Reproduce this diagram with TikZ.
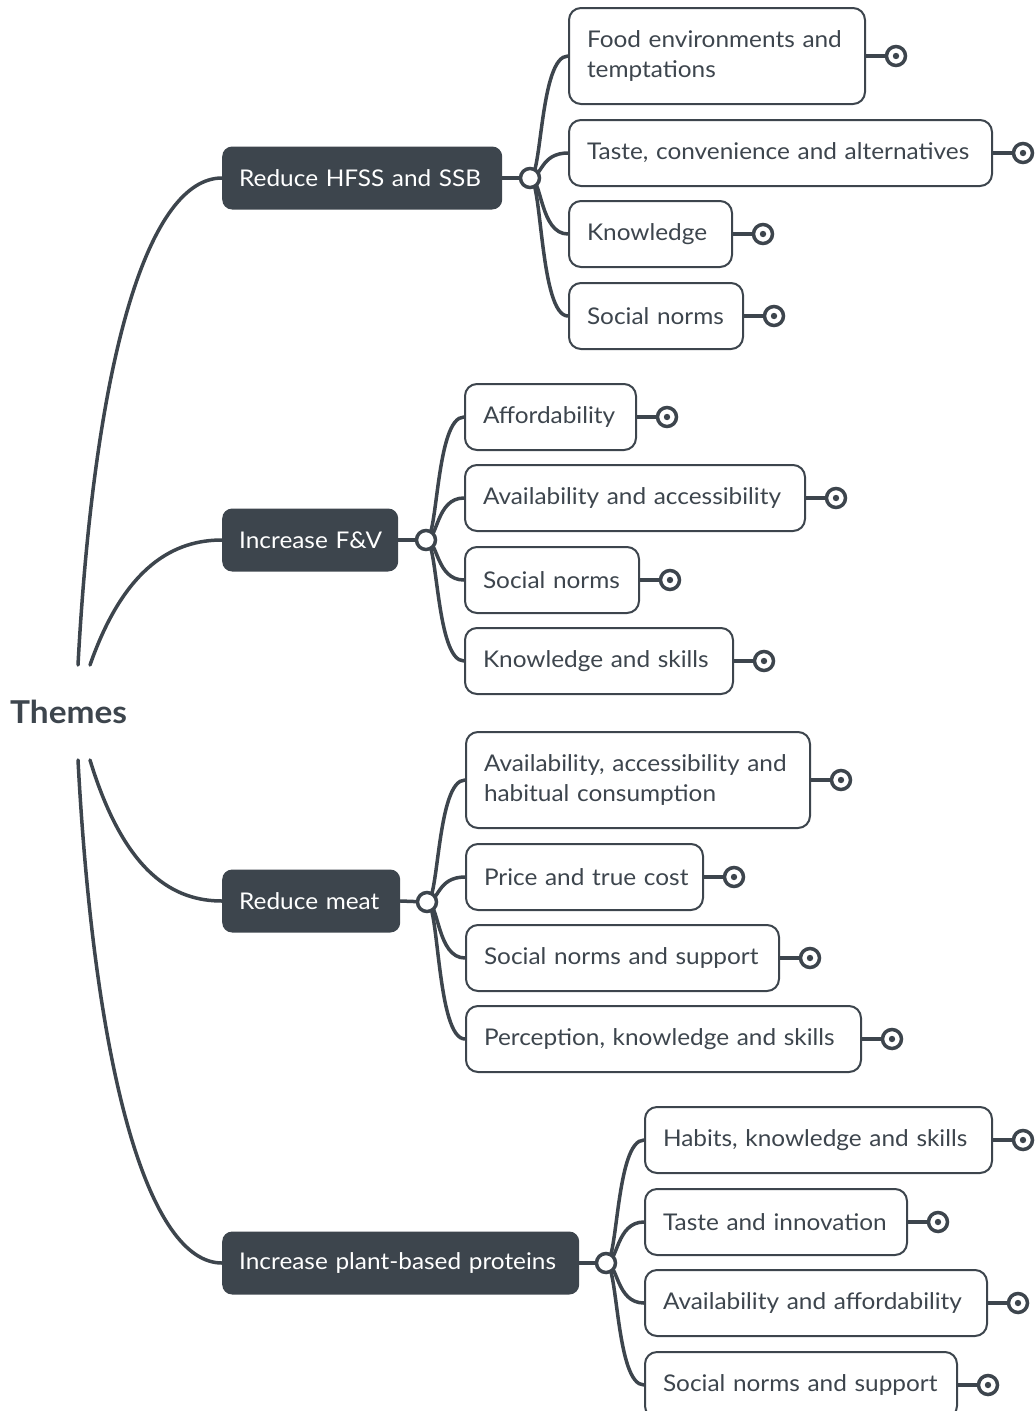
\documentclass[tikz,border=0pt]{standalone}
\usepackage{fontspec}
\setmainfont{Lato}[FakeStretch=1.06]
\definecolor{dk}{HTML}{3D454D}
\pgfdeclarelayer{bg}
\pgfsetlayers{bg,main}

% leaf topic: name, junction, x, centre y, width, height, text width, text
\newcommand\leafnode[8]{%
  \node[leaf, minimum width=#5pt, minimum height=#6pt, text width=#7pt] (#1) at (#3,#4) {#8};
  \node[endmark] (#1m) at ([xshift=30pt]#1.east) {};
  \fill[dk] (#1m.center) circle (3.2pt);
  \begin{pgfonlayer}{bg}
    \draw[link] (#1.east) -- (#1m.center);
    \draw[link] (#2.center) .. controls +(12,0) and +(-28,0) .. (#1.west);
  \end{pgfonlayer}
}

\begin{document}
\begin{tikzpicture}[x=1pt,y=-1pt,
  topic/.style={fill=dk, text=white, rounded corners=10pt, minimum height=63pt,
    inner xsep=17pt, anchor=west, align=left, font=\fontsize{23}{27}\selectfont},
  leaf/.style={draw=dk, line width=2pt, fill=white, rounded corners=12pt,
    inner xsep=18pt, inner ysep=0pt, align=left, anchor=west, text=dk,
    font=\fontsize{23}{30.5}\selectfont},
  junc/.style={circle, draw=dk, line width=3.5pt, fill=white, minimum size=19pt, inner sep=0pt},
  endmark/.style={circle, draw=dk, line width=3.5pt, fill=white, minimum size=19pt, inner sep=0pt},
  link/.style={draw=dk, line width=3.5pt, line cap=round},
]
\useasboundingbox (0,0) rectangle (1034,1411);

% root
\node[anchor=west, inner xsep=0pt, text=dk, font=\fontsize{31.5}{36}\selectfont\bfseries] (root) at (10,712) {Themes};
\coordinate (r1) at (78,665);
\coordinate (r2) at (90,665);
\coordinate (r3) at (90,760);
\coordinate (r4) at (78,760);

% main topics
\node[topic, minimum width=280pt, text width=246pt] (m1) at (222,178) {\mbox{Reduce HFSS and SSB}};
\node[topic, minimum width=176pt, text width=142pt] (m2) at (222,540) {\mbox{Increase F\&V}};
\node[topic, minimum width=178pt, text width=144pt] (m3) at (222,901) {\mbox{Reduce meat}};
\node[topic, minimum width=357pt, text width=323pt] (m4) at (222,1263) {\mbox{Increase plant-based proteins}};

% junctions
\node[junc] (j1) at (530,178) {};
\node[junc] (j2) at (426,540) {};
\node[junc] (j3) at (427,902) {};
\node[junc] (j4) at (606,1263) {};

\begin{pgfonlayer}{bg}
  \draw[link] (r1) .. controls (95,350) and (150,178) .. (m1.west);
  \draw[link] (r2) .. controls (125,565) and (175,540) .. (m2.west);
  \draw[link] (r3) .. controls (125,875) and (175,901) .. (m3.west);
  \draw[link] (r4) .. controls (95,1080) and (150,1263) .. (m4.west);
  \draw[link] (m1.east) -- (j1.center);
  \draw[link] (m2.east) -- (j2.center);
  \draw[link] (m3.east) -- (j3.center);
  \draw[link] (m4.east) -- (j4.center);
\end{pgfonlayer}

% Reduce HFSS and SSB
\leafnode{a1}{j1}{568}{56}{296}{96}{260}{\mbox{Food environments and}\\\mbox{temptations}}
\leafnode{a2}{j1}{568}{153}{423}{66}{387}{\mbox{Taste, convenience and alternatives}}
\leafnode{a3}{j1}{568}{234}{163}{66}{127}{\mbox{Knowledge}}
\leafnode{a4}{j1}{568}{316}{174}{66}{138}{\mbox{Social norms}}

% Increase F&V
\leafnode{b1}{j2}{464}{417}{171}{66}{135}{\mbox{Affordability}}
\leafnode{b2}{j2}{464}{498}{340}{66}{304}{\mbox{Availability and accessibility}}
\leafnode{b3}{j2}{464}{580}{174}{66}{138}{\mbox{Social norms}}
\leafnode{b4}{j2}{464}{661}{268}{66}{232}{\mbox{Knowledge and skills}}

% Reduce meat
\leafnode{c1}{j3}{465}{780}{344}{96}{308}{\mbox{Availability, accessibility and}\\\mbox{habitual consumption}}
\leafnode{c2}{j3}{465}{877}{237}{66}{201}{\mbox{Price and true cost}}
\leafnode{c3}{j3}{465}{958}{313}{66}{277}{\mbox{Social norms and support}}
\leafnode{c4}{j3}{465}{1039}{395}{66}{359}{\mbox{Perception, knowledge and skills}}

% Increase plant-based proteins
\leafnode{d1}{j4}{644}{1140}{347}{66}{311}{\mbox{Habits, knowledge and skills}}
\leafnode{d2}{j4}{644}{1222}{262}{66}{226}{\mbox{Taste and innovation}}
\leafnode{d3}{j4}{644}{1303}{342}{66}{306}{\mbox{Availability and affordability}}
\leafnode{d4}{j4}{644}{1385}{312}{66}{276}{\mbox{Social norms and support}}
\end{tikzpicture}
\end{document}
